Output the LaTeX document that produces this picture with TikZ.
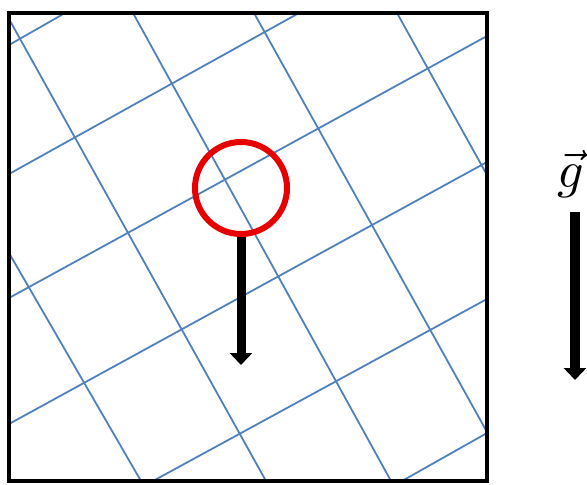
\documentclass[tikz,border=0pt]{standalone}
\usetikzlibrary{arrows.meta}
\definecolor{gridblue}{RGB}{79,129,189}
\definecolor{probered}{RGB}{230,0,0}

\begin{document}
\begin{tikzpicture}[
  x=1pt, y=-1pt,
  gridline/.style = {draw=gridblue, line width=1.8pt},
  frame/.style    = {draw=black, line width=4pt},
  probe/.style    = {draw=probered, circle, line width=6pt, minimum size=92pt, inner sep=0pt},
  fall/.style     = {line width=9pt, -{Triangle[width=22pt, length=12pt]}}
]
  \useasboundingbox (0,0) rectangle (587,485);

  % tilted grid
  \foreach \ax/\ay/\bx/\by in {9/19/266/481, 133/13/391/481, 254/13/487/432, 397/13/487/175, 9/253/141/481}
    \draw[gridline] (\ax,\ay) -- (\bx,\by);
  \foreach \ax/\ay/\bx/\by in {9/45/65/13, 9/174/299/13, 9/298/487/36, 9/424/487/162, 153/481/487/299, 402/481/487/433}
    \draw[gridline] (\ax,\ay) -- (\bx,\by);

  \draw[frame] (9,13) rectangle (487,481);

  % probe and its weight
  \node[probe] (probe) at (241,188) {};
  \coordinate (probetip) at (241,365);
  \draw[fall] (probe.south) -- (probetip);

  % gravity
  \node[scale=5.2] (glabel) at (571,174) {$\vec{g}$};
  \coordinate (gtop) at (575,212);
  \coordinate (gtip) at (575,380);
  \draw[fall, line width=10pt] (gtop) -- (gtip);
\end{tikzpicture}
\end{document}
